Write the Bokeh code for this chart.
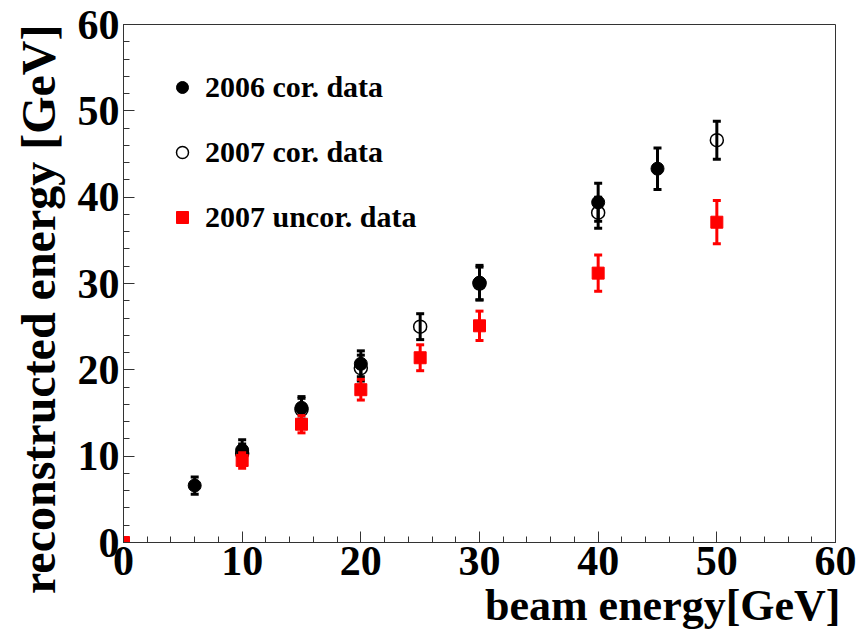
from bokeh.plotting import figure
from bokeh.models import FixedTicker, Legend, LegendItem, ColumnDataSource, Title
from bokeh.embed import file_html
from bokeh.resources import INLINE

# ---- data ----
x_2006 = [6, 10, 15, 20, 30, 40, 45]
y_2006 = [6.6, 10.7, 15.6, 20.7, 30.1, 39.4, 43.3]
e_2006 = [1.0, 1.2, 1.3, 1.5, 2.0, 2.2, 2.4]

x_2007 = [10, 15, 20, 25, 30, 40, 50]
y_2007 = [10.3, 15.4, 20.2, 25.0, 30.0, 38.2, 46.6]
e_2007 = [1.1, 1.3, 1.5, 1.5, 1.9, 1.8, 2.2]

x_unc = [0, 10, 15, 20, 25, 30, 40, 50]
y_unc = [0.0, 9.5, 13.7, 17.7, 21.4, 25.1, 31.2, 37.1]
e_unc = [0.0, 0.9, 1.0, 1.2, 1.5, 1.7, 2.1, 2.5]

major_ticks = [0, 10, 20, 30, 40, 50, 60]
minor_ticks = list(range(0, 61, 2))

legend_labels = ["2006 cor. data", "2007 cor. data", "2007 uncor. data"]
x_title = "beam energy[GeV]"
y_title = "reconstructed energy [GeV]"

FONT = "Liberation Serif"

p = figure(width=859, height=634, output_backend="svg", toolbar_location=None,
           x_range=(0, 60), y_range=(0, 60),
           min_border_left=123, min_border_right=24, min_border_top=24, min_border_bottom=92)
p.background_fill_color = "white"
p.border_fill_color = "white"
p.grid.visible = False
p.outline_line_color = "#333333"
p.outline_line_width = 1

for ax in (p.xaxis[0], p.yaxis[0]):
    ax.ticker = FixedTicker(ticks=major_ticks, minor_ticks=minor_ticks)
    ax.major_tick_in = 11
    ax.major_tick_out = 0
    ax.minor_tick_in = 6
    ax.minor_tick_out = 0
    ax.axis_line_color = "#333333"
    ax.major_tick_line_color = "#333333"
    ax.minor_tick_line_color = "#333333"
    ax.major_label_text_font = FONT
    ax.major_label_text_font_style = "bold"
    ax.major_label_text_font_size = "42px"
    ax.major_label_text_color = "black"
    ax.axis_label = None
p.xaxis[0].major_label_standoff = 4
p.yaxis[0].major_label_standoff = 4


def errorbars(xs, ys, es, color):
    src = ColumnDataSource(dict(x=xs, lo=[y - e for y, e in zip(ys, es)],
                                hi=[y + e for y, e in zip(ys, es)]))
    p.segment(x0="x", y0="lo", x1="x", y1="hi", source=src, line_color=color, line_width=3)
    p.scatter(x="x", y="lo", source=src, marker="dash", size=8, line_color=color, line_width=3)
    p.scatter(x="x", y="hi", source=src, marker="dash", size=8, line_color=color, line_width=3)


errorbars(x_2006, y_2006, e_2006, "black")
r1 = p.scatter(x_2006, y_2006, marker="circle", size=13, fill_color="black", line_color="black")
errorbars(x_2007, y_2007, e_2007, "black")
r2 = p.scatter(x_2007, y_2007, marker="circle", size=13, fill_color=None, line_color="black", line_width=1.5)
errorbars(x_unc, y_unc, e_unc, "#ff0000")
r3 = p.scatter(x_unc, y_unc, marker="square", size=12, fill_color="#ff0000", line_color="#ff0000")

legend = Legend(items=[LegendItem(label=legend_labels[0], renderers=[r1]),
                       LegendItem(label=legend_labels[1], renderers=[r2]),
                       LegendItem(label=legend_labels[2], renderers=[r3])],
                location=(44, 308), border_line_color=None, background_fill_alpha=0,
                padding=0, margin=0, spacing=31, glyph_width=30, glyph_height=34,
                label_height=34, label_standoff=8,
                label_text_font=FONT, label_text_font_style="bold",
                label_text_font_size="30px", label_text_color="black")
p.add_layout(legend, "center")

xt = Title(text=x_title, align="right", standoff=2, offset=-5,
           text_font=FONT, text_font_style="bold", text_font_size="44px", text_color="black")
p.add_layout(xt, "below")
yt = Title(text=y_title, align="right", standoff=19,
           text_font=FONT, text_font_style="bold", text_font_size="48px", text_color="black")
p.add_layout(yt, "left")

open("out.html", "w").write(file_html(p, INLINE))
